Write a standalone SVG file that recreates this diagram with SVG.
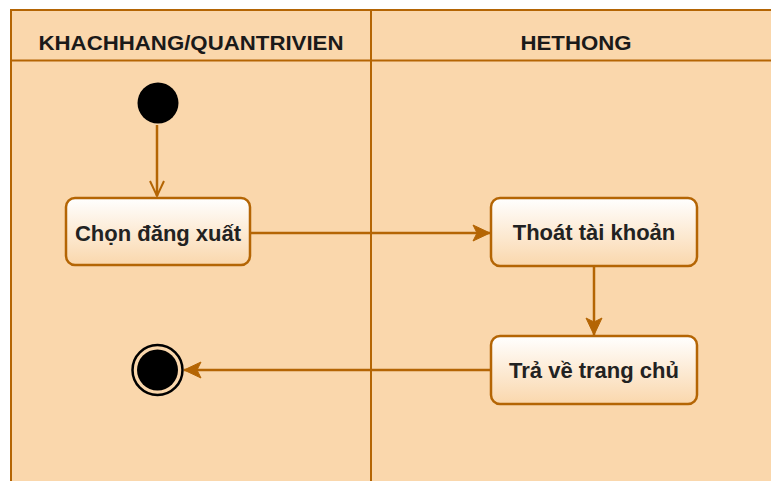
<svg xmlns="http://www.w3.org/2000/svg" width="771" height="481" viewBox="0 0 771 481">
<defs>
<linearGradient id="g" x1="0" y1="0" x2="0" y2="1">
<stop offset="0" stop-color="#ffffff"/>
<stop offset="1" stop-color="#fad7ac"/>
</linearGradient>
<marker id="open" viewBox="0 0 20 20" refX="17" refY="10" markerWidth="20" markerHeight="20" markerUnits="userSpaceOnUse" orient="auto">
<path d="M2,3 L17,10 L2,17" fill="none" stroke="#b46504" stroke-width="2"/>
</marker>
<marker id="block" viewBox="0 0 20 20" refX="18" refY="10" markerWidth="20" markerHeight="20" markerUnits="userSpaceOnUse" orient="auto">
<path d="M1,2 L18,10 L1,18 L5,10 Z" fill="#b46504" stroke="#b46504" stroke-width="1"/>
</marker>
</defs>
<style>
.lane{fill:#fad7ac;stroke:#b46504;stroke-width:2}
.hdr{font-family:"Liberation Sans",Arial,sans-serif;font-weight:bold;font-size:21px;fill:#1a1a1a;text-anchor:middle}
.box{fill:url(#g);stroke:#b46504;stroke-width:2.5}
.lbl{font-family:"Liberation Sans",Arial,sans-serif;font-weight:bold;font-size:22px;fill:#222;text-anchor:middle}
.edge{fill:none;stroke:#b46504;stroke-width:2.5}
</style>
<rect x="0" y="0" width="771" height="481" fill="#ffffff"/>
<g id="lanes">
<rect class="lane" x="11" y="10" width="820" height="520"/>
<line x1="11" y1="60.5" x2="771" y2="60.5" stroke="#b46504" stroke-width="2"/>
<line x1="371" y1="10" x2="371" y2="481" stroke="#b46504" stroke-width="2"/>
<text class="hdr" x="191" y="50" textLength="305" lengthAdjust="spacingAndGlyphs">KHACHHANG/QUANTRIVIEN</text>
<text class="hdr" x="576" y="50" textLength="111" lengthAdjust="spacingAndGlyphs">HETHONG</text>
</g>
<g id="connectors">
<line class="edge" x1="157" y1="125" x2="157" y2="196" marker-end="url(#open)"/>
<line class="edge" x1="250" y1="233" x2="490" y2="233" marker-end="url(#block)"/>
<line class="edge" x1="594" y1="267" x2="594" y2="335" marker-end="url(#block)"/>
<line class="edge" x1="491" y1="370" x2="184" y2="370" marker-end="url(#block)"/>
</g>
<g id="start">
<circle cx="158" cy="103" r="20.5" fill="#000"/>
</g>
<g id="chon">
<rect class="box" x="66" y="198" width="184" height="67" rx="9"/>
<text class="lbl" x="158" y="241">Chọn đăng xuất</text>
</g>
<g id="thoat">
<rect class="box" x="491" y="198" width="206" height="68" rx="9"/>
<text class="lbl" x="594" y="240">Thoát tài khoản</text>
</g>
<g id="trave">
<rect class="box" x="491" y="336" width="206" height="68" rx="9"/>
<text class="lbl" x="594" y="378">Trả về trang chủ</text>
</g>
<g id="end">
<circle cx="157.5" cy="370" r="25" fill="#fad7ac" stroke="#000" stroke-width="2.5"/>
<circle cx="157.5" cy="370" r="20.5" fill="#000"/>
</g>
</svg>
